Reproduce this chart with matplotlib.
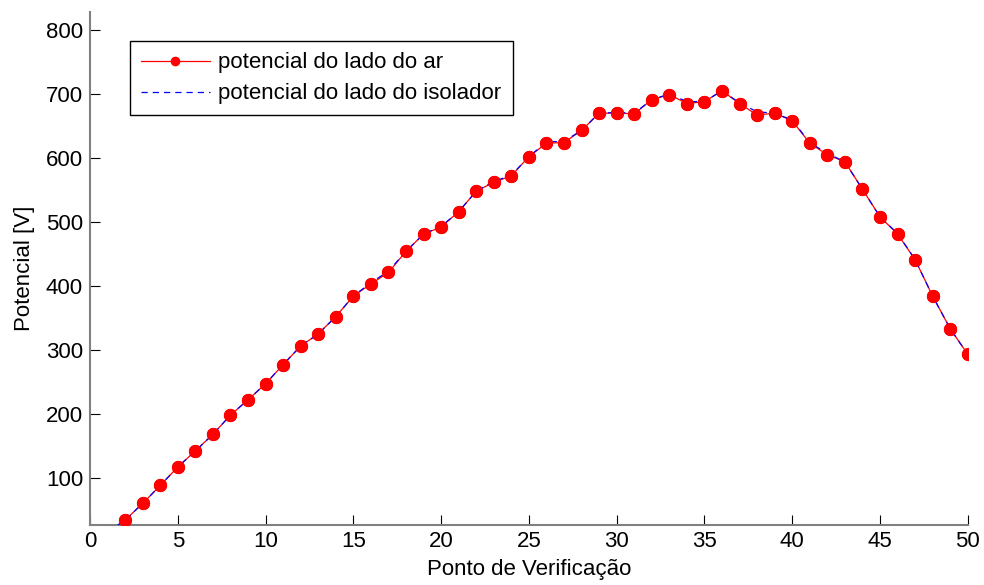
import matplotlib
matplotlib.use('Agg')
import matplotlib.pyplot as plt
import numpy as np

plt.rcParams['font.family'] = ['Liberation Sans', 'DejaVu Sans']

# Ponto de verificação 1..50
pontos = np.arange(1, 51)
lado_ar = [15, 34, 60, 88, 117, 142, 168, 198, 222, 247,
           277, 306, 325, 352, 384, 403, 421, 454, 481, 492,
           516, 548, 562, 572, 602, 623, 624, 643, 670, 670,
           669, 691, 699, 685, 688, 705, 685, 667, 670, 658,
           623, 605, 594, 551, 508, 481, 441, 384, 333, 293]
lado_isolador = [15, 34, 60, 88, 117, 142, 168, 198, 222, 247,
                 277, 306, 325, 352, 384, 405, 423, 454, 481, 493,
                 516, 548, 563, 573, 602, 625, 626, 643, 670, 671,
                 670, 691, 700, 688, 688, 705, 686, 672, 670, 659,
                 624, 607, 594, 551, 508, 482, 441, 384, 333, 293]

fig = plt.figure(figsize=(9.84, 5.85), dpi=100)
ax = fig.add_axes([0.0915, 0.1034, 0.892, 0.876])

l1, = ax.plot(pontos, lado_ar, '-', color='red', lw=0.9, marker='o',
              markersize=8.5, markeredgecolor='red', markerfacecolor='red',
              zorder=2, label='potencial do lado do ar')
l2, = ax.plot(pontos, lado_isolador, '--', color='blue', lw=0.9,
              dashes=(5, 4), zorder=3, label='potencial do lado do isolador')
# markers on top of the dashed line
ax.plot(pontos, lado_ar, 'o', color='red', markersize=8.5, zorder=4)

ax.set_xlim(0, 50)
ax.set_ylim(27, 828)
ax.set_xticks(np.arange(0, 51, 5))
ax.set_yticks(np.arange(100, 801, 100))

for s in ['top', 'right']:
    ax.spines[s].set_visible(False)
for s in ['left', 'bottom']:
    ax.spines[s].set_color('#808080')
    ax.spines[s].set_linewidth(1.5)

ax.tick_params(direction='in', length=7, width=0.8, color='black',
               labelsize=16, pad=5)

ax.set_xlabel('Ponto de Verificação', fontsize=16, labelpad=5)
ax.set_ylabel('Potencial [V]', fontsize=16, labelpad=8)

leg = ax.legend(handles=[l1, l2], loc='upper left',
                bbox_to_anchor=(0.045, 0.943), fontsize=16,
                handlelength=3.1, handletextpad=0.4, numpoints=1,
                markerscale=0.7, fancybox=False, framealpha=1,
                borderpad=0.5, borderaxespad=0, labelspacing=0.45)
leg.get_frame().set_edgecolor('black')
leg.get_frame().set_linewidth(1.0)

fig.savefig('out.png', dpi=100)
